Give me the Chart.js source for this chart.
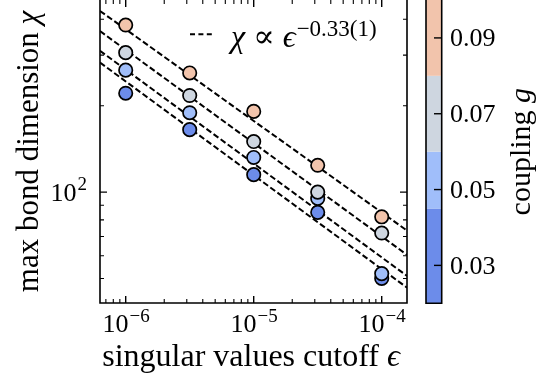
<!DOCTYPE html>
<html lang="en">
<head>
  <meta charset="UTF-8">
  <title>Bond dimension vs cutoff</title>
  <script src="https://cdn.jsdelivr.net/npm/chart.js"></script>
  <style>
    html, body { margin: 0; padding: 0; background: #fff; }
  </style>
</head>
<body>
  <canvas id="grafico" width="539" height="385"></canvas>
<script>
  // cutoff values on the x axis
  const cutoffs = [1e-6, 3.162e-6, 1e-5, 3.162e-5, 1e-4];
  // max bond dimension, one list per coupling g
  const chiG03 = [221, 165, 115, 85, 50];
  const chiG05 = [266, 189, 132, 95, 52];
  const chiG07 = [306, 217, 150, 100, 72];
  const chiG09 = [382, 260, 191, 124, 82];
  // power-law fits: chi at eps = 1e-6 and exponent
  const fitPrefactor = [243, 267, 313, 369];
  const fitExponent = [-0.327, -0.327, -0.325, -0.319];
  const fitLabel = '−0.33(1)';

  // discrete colour bar
  const couplingColors = ['#6C8CEA', '#A0BEFA', '#CED6E0', '#F2C4AC'];
  const couplingBounds = [0.02, 0.045, 0.06, 0.08, 0.10];
  const couplingTicks = [0.03, 0.05, 0.07, 0.09];
  const couplingTickLabels = ['0.03', '0.05', '0.07', '0.09'];

  // major tick labels (base 10, exponent)
  const xMajor = [1e-6, 1e-5, 1e-4];
  const xMajorExp = ['−6', '−5', '−4'];
  const yMajor = [100];
  const yMajorExp = ['2'];

  const xMin = 6.298e-7, xMax = 1.576e-4;
  const yMin = 41.07, yMax = 466.9;

  const SERIF = '"Liberation Serif", "DejaVu Serif", serif';
  const DASH = [6, 2.8];

  function powerFit(i, eps) {
    return fitPrefactor[i] * Math.pow(eps / 1e-6, fitExponent[i]);
  }

  const chiSeries = [chiG03, chiG05, chiG07, chiG09];
  const datasets = [];
  chiSeries.forEach((vals, i) => {
    datasets.push({
      type: 'scatter',
      label: 'g = ' + couplingTickLabels[i],
      data: cutoffs.map((e, j) => ({ x: e, y: vals[j] })),
      backgroundColor: couplingColors[i],
      borderColor: '#000',
      borderWidth: 1.7,
      pointRadius: 6.7,
      pointHoverRadius: 6.7,
      order: 4 - i
    });
    datasets.push({
      type: 'line',
      label: 'fit ' + i,
      data: [xMin, xMax].map(e => ({ x: e, y: powerFit(i, e) })),
      borderColor: '#000',
      borderWidth: 2,
      borderDash: DASH,
      pointRadius: 0,
      fill: false,
      order: 10
    });
  });

  // text like 10^-6 : base plus a raised exponent
  function drawPower(c, base, sup, x, y, align, size) {
    const supSize = Math.round(size * 0.72);
    c.font = size + 'px ' + SERIF;
    const wb = c.measureText(base).width;
    c.font = supSize + 'px ' + SERIF;
    const ws = c.measureText(sup).width;
    let x0 = x;
    if (align === 'center') x0 = x - (wb + ws) / 2;
    if (align === 'right') x0 = x - wb - ws;
    c.textAlign = 'left';
    c.textBaseline = 'alphabetic';
    c.font = size + 'px ' + SERIF;
    c.fillText(base, x0, y);
    c.font = supSize + 'px ' + SERIF;
    c.fillText(sup, x0 + wb + 1, y - size * 0.4);
  }

  // pieces of [text, italic] drawn one after another, returns end x
  function drawPieces(c, pieces, x, y, size, align) {
    let total = 0;
    pieces.forEach(p => {
      c.font = (p[1] ? 'italic ' : '') + size + 'px ' + SERIF;
      total += c.measureText(p[0]).width;
    });
    let cx = align === 'center' ? x - total / 2 : x;
    c.textAlign = 'left';
    pieces.forEach(p => {
      c.font = (p[1] ? 'italic ' : '') + size + 'px ' + SERIF;
      c.fillText(p[0], cx, y);
      cx += c.measureText(p[0]).width;
    });
    return cx;
  }

  function logTicks(min, max) {
    const out = [];
    for (let n = Math.floor(Math.log10(min)); n <= Math.ceil(Math.log10(max)); n++) {
      for (let k = 1; k <= 9; k++) {
        const v = k * Math.pow(10, n);
        if (v >= min && v <= max) out.push({ v: v, major: k === 1 });
      }
    }
    return out;
  }

  const framePlugin = {
    id: 'frame',
    afterDraw(chart) {
      const c = chart.ctx;
      const a = chart.chartArea;
      const sx = chart.scales.x, sy = chart.scales.y;
      c.save();
      c.strokeStyle = '#000';
      c.fillStyle = '#000';

      // spines (the top one sits just above the canvas)
      c.lineWidth = 1.6;
      c.beginPath();
      c.moveTo(a.left, a.top - 2); c.lineTo(a.left, a.bottom);
      c.lineTo(a.right, a.bottom); c.lineTo(a.right, a.top - 2);
      c.stroke();

      // inward ticks on all four sides
      logTicks(xMin, xMax).forEach(t => {
        const px = sx.getPixelForValue(t.v);
        const len = t.major ? 7 : 4;
        c.lineWidth = t.major ? 1.4 : 1.1;
        c.beginPath();
        c.moveTo(px, a.bottom); c.lineTo(px, a.bottom - len);
        c.moveTo(px, a.top); c.lineTo(px, a.top + len);
        c.stroke();
      });
      logTicks(yMin, yMax).forEach(t => {
        const py = sy.getPixelForValue(t.v);
        const len = t.major ? 7 : 4;
        c.lineWidth = t.major ? 1.4 : 1.1;
        c.beginPath();
        c.moveTo(a.left, py); c.lineTo(a.left + len, py);
        c.moveTo(a.right, py); c.lineTo(a.right - len, py);
        c.stroke();
      });

      // tick labels
      xMajor.forEach((v, i) => {
        drawPower(c, '10', xMajorExp[i], sx.getPixelForValue(v), 332, 'center', 26);
      });
      yMajor.forEach((v, i) => {
        drawPower(c, '10', yMajorExp[i], 86, sy.getPixelForValue(v) + 8.5, 'right', 26);
      });

      // axis titles
      c.textBaseline = 'alphabetic';
      drawPieces(c, [['singular values cutoff ', false], ['ϵ', true]], 251, 366, 32, 'center');
      c.save();
      c.translate(38, (a.top + a.bottom) / 2);
      c.rotate(-Math.PI / 2);
      drawPieces(c, [['max bond dimension ', false], ['χ', true]], 0, 0, 31, 'center');
      c.restore();

      // legend for the fits
      c.lineWidth = 2;
      c.setLineDash([5, 3.4]);
      c.beginPath();
      c.moveTo(190, 34.3); c.lineTo(212, 34.3);
      c.stroke();
      c.setLineDash([]);
      const legEnd = drawPieces(c, [['χ', true], [' ∝ ', false], ['ϵ', true]], 231, 47, 32, 'left');
      c.font = '23px ' + SERIF;
      c.textAlign = 'left';
      c.fillText(fitLabel, legEnd + 1, 36);

      // colour bar
      const cbL = 426, cbR = 441.7, cbT = a.top, cbB = 303.3;
      const gMin = couplingBounds[0], gMax = couplingBounds[couplingBounds.length - 1];
      const gy = g => cbT + (gMax - g) / (gMax - gMin) * (cbB - cbT);
      couplingColors.forEach((col, i) => {
        c.fillStyle = col;
        const y0 = gy(couplingBounds[i + 1]), y1 = gy(couplingBounds[i]);
        c.fillRect(cbL, y0, cbR - cbL, y1 - y0);
      });
      c.fillStyle = '#000';
      c.lineWidth = 1.6;
      c.beginPath();
      c.moveTo(cbL, cbT - 2); c.lineTo(cbL, cbB);
      c.lineTo(cbR, cbB); c.lineTo(cbR, cbT - 2);
      c.stroke();
      c.font = '26px ' + SERIF;
      couplingTicks.forEach((g, i) => {
        const py = gy(g);
        c.lineWidth = 1.4;
        c.beginPath();
        c.moveTo(cbR, py); c.lineTo(cbR - 7.7, py);
        c.stroke();
        c.textAlign = 'left';
        c.fillText(couplingTickLabels[i], 450, py + 8.5);
      });
      c.save();
      c.translate(530, (cbT + cbB) / 2);
      c.rotate(-Math.PI / 2);
      drawPieces(c, [['coupling ', false], ['g', true]], 0, 0, 30, 'center');
      c.restore();

      c.restore();
    }
  };

  const grafico = new Chart(document.getElementById('grafico'), {
    type: 'scatter',
    data: { datasets: datasets },
    options: {
      responsive: false,
      animation: false,
      layout: { autoPadding: false, padding: { left: 100, right: 132, top: -1, bottom: 82 } },
      plugins: { legend: { display: false }, tooltip: { enabled: false } },
      scales: {
        x: { type: 'logarithmic', min: xMin, max: xMax, display: false },
        y: { type: 'logarithmic', min: yMin, max: yMax, display: false }
      }
    },
    plugins: [framePlugin]
  });
</script>
</body>
</html>
